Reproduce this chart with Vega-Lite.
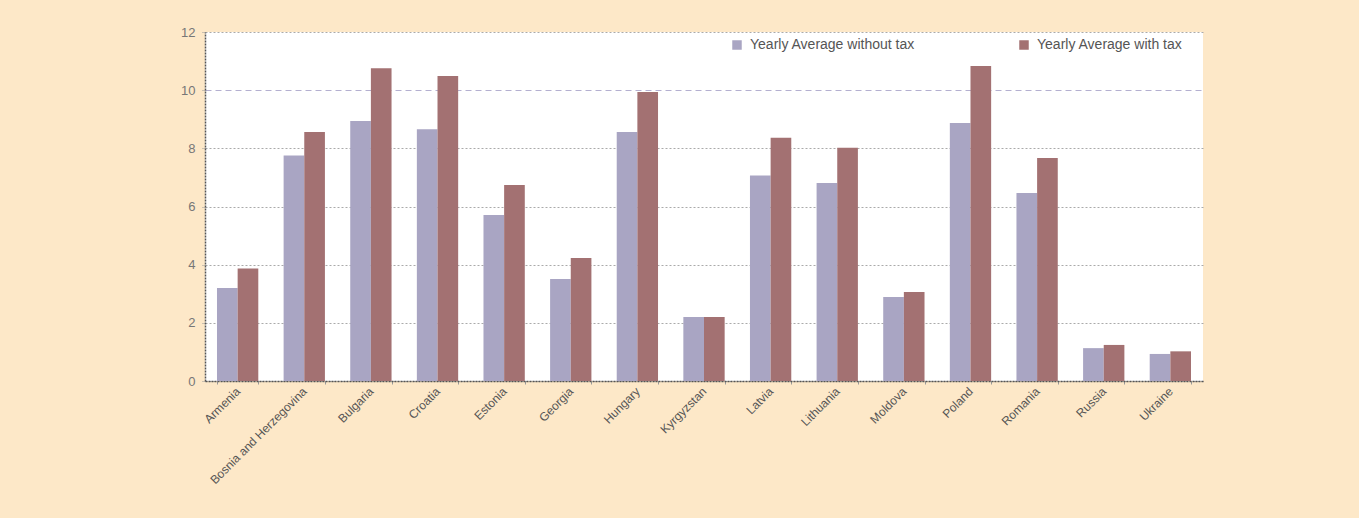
{
  "$schema": "https://vega.github.io/schema/vega-lite/v6.json",
  "autosize": {"type": "none"},
  "padding": {"left": 205, "top": 32, "right": 156, "bottom": 137},
  "width": 998,
  "height": 349,
  "background": "#FDE8C8",
  "config": {
    "view": {"fill": "#FFFFFF", "stroke": null},
    "font": "Liberation Sans"
  },
  "data": {
    "values": [
      {"country": "Armenia", "series": "Yearly Average without tax", "value": 3.2},
      {"country": "Armenia", "series": "Yearly Average with tax", "value": 3.87},
      {"country": "Bosnia and Herzegovina", "series": "Yearly Average without tax", "value": 7.75},
      {"country": "Bosnia and Herzegovina", "series": "Yearly Average with tax", "value": 8.56},
      {"country": "Bulgaria", "series": "Yearly Average without tax", "value": 8.94},
      {"country": "Bulgaria", "series": "Yearly Average with tax", "value": 10.75},
      {"country": "Croatia", "series": "Yearly Average without tax", "value": 8.66},
      {"country": "Croatia", "series": "Yearly Average with tax", "value": 10.49},
      {"country": "Estonia", "series": "Yearly Average without tax", "value": 5.71},
      {"country": "Estonia", "series": "Yearly Average with tax", "value": 6.74},
      {"country": "Georgia", "series": "Yearly Average without tax", "value": 3.51},
      {"country": "Georgia", "series": "Yearly Average with tax", "value": 4.23},
      {"country": "Hungary", "series": "Yearly Average without tax", "value": 8.56},
      {"country": "Hungary", "series": "Yearly Average with tax", "value": 9.94},
      {"country": "Kyrgyzstan", "series": "Yearly Average without tax", "value": 2.2},
      {"country": "Kyrgyzstan", "series": "Yearly Average with tax", "value": 2.2},
      {"country": "Latvia", "series": "Yearly Average without tax", "value": 7.07},
      {"country": "Latvia", "series": "Yearly Average with tax", "value": 8.36},
      {"country": "Lithuania", "series": "Yearly Average without tax", "value": 6.81},
      {"country": "Lithuania", "series": "Yearly Average with tax", "value": 8.02},
      {"country": "Moldova", "series": "Yearly Average without tax", "value": 2.89},
      {"country": "Moldova", "series": "Yearly Average with tax", "value": 3.06},
      {"country": "Poland", "series": "Yearly Average without tax", "value": 8.87},
      {"country": "Poland", "series": "Yearly Average with tax", "value": 10.83},
      {"country": "Romania", "series": "Yearly Average without tax", "value": 6.46},
      {"country": "Romania", "series": "Yearly Average with tax", "value": 7.67},
      {"country": "Russia", "series": "Yearly Average without tax", "value": 1.13},
      {"country": "Russia", "series": "Yearly Average with tax", "value": 1.24},
      {"country": "Ukraine", "series": "Yearly Average without tax", "value": 0.93},
      {"country": "Ukraine", "series": "Yearly Average with tax", "value": 1.02}
    ]
  },
  "mark": {"type": "bar"},
  "encoding": {
    "x": {
      "field": "country",
      "type": "nominal",
      "sort": null,
      "scale": {"paddingInner": 0.38, "paddingOuter": 0.18},
      "axis": {
        "title": null,
        "labelAngle": -45,
        "labelAlign": "right",
        "labelBaseline": "middle",
        "labelFontSize": 12,
        "labelColor": "#555555",
        "labelPadding": 5,
        "labelLimit": 250,
        "domainColor": "#555555",
        "domainDash": [2, 1],
        "domainWidth": 1.5,
        "ticks": true,
        "tickBand": "extent",
        "tickSize": 3,
        "tickColor": "#999999"
      }
    },
    "xOffset": {
      "field": "series",
      "type": "nominal",
      "sort": ["Yearly Average without tax", "Yearly Average with tax"]
    },
    "y": {
      "field": "value",
      "type": "quantitative",
      "scale": {"domain": [0, 12], "nice": false},
      "axis": {
        "title": null,
        "values": [0, 2, 4, 6, 8, 10, 12],
        "labelFontSize": 13,
        "labelColor": "#777777",
        "labelPadding": 7,
        "domainColor": "#555555",
        "domainDash": [2, 1],
        "domainWidth": 1.5,
        "tickSize": 3,
        "tickColor": "#999999",
        "tickDash": [1, 1],
        "grid": true,
        "gridColor": {"condition": {"test": "datum.value === 10", "value": "#B4B0D0"}, "value": "#AAAAAA"},
        "gridDash": {"condition": {"test": "datum.value === 10", "value": [6, 4]}, "value": [2, 2]},
        "gridWidth": 1
      }
    },
    "color": {
      "field": "series",
      "type": "nominal",
      "sort": ["Yearly Average without tax", "Yearly Average with tax"],
      "scale": {
        "domain": ["Yearly Average without tax", "Yearly Average with tax"],
        "range": ["#A9A5C3", "#A37172"]
      },
      "legend": {
        "title": null,
        "orient": "none",
        "legendX": 525,
        "legendY": 6,
        "direction": "horizontal",
        "columns": 2,
        "columnPadding": 102,
        "symbolType": "square",
        "symbolSize": 90,
        "symbolStrokeWidth": 0,
        "labelFontSize": 14,
        "labelColor": "#555555",
        "labelLimit": 400,
        "labelOffset": 6
      }
    }
  }
}
